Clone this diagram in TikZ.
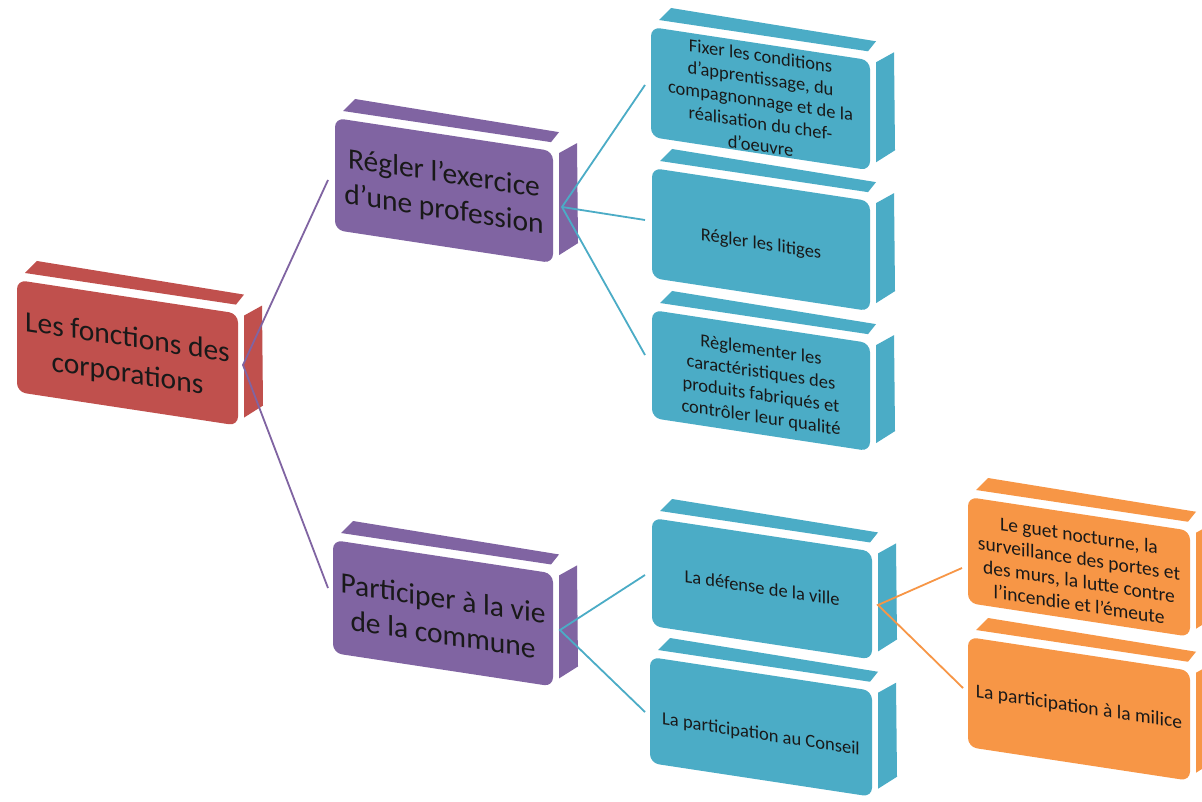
\documentclass[tikz,border=0pt]{standalone}
\usepackage{fontspec}
\setmainfont{Carlito}
\definecolor{cred}{RGB}{192,80,77}
\definecolor{cpur}{RGB}{128,100,162}
\definecolor{cblu}{RGB}{75,172,198}
\definecolor{corg}{RGB}{247,150,70}
\definecolor{ctxt}{RGB}{25,25,25}
\tikzset{
  bigtext/.style={font=\fontsize{29.5}{36}\selectfont, text=ctxt, align=center, inner sep=0pt},
  smalltext/.style={font=\fontsize{18.5}{22.5}\selectfont, text=ctxt, align=center, inner sep=0pt},
  orgtext/.style={font=\fontsize{19.5}{23}\selectfont, text=ctxt, align=center, inner sep=0pt},
  link/.style={line width=1.8pt},
}
% #1 name, #2 x, #3 y, #4 width, #5 height, #6 colour, #7 text style, #8 text, #9 text dy
\newcommand\cbox[9]{%
  \pgfmathsetmacro\bxR{#2+#4}%
  \pgfmathsetmacro\byTR{#3+0.152*#4}%
  \pgfmathsetmacro\byBR{\byTR+#5}%
  \pgfmathsetmacro\byBL{#3+#5}%
  \pgfmathsetmacro\bcx{#2+0.5*#4}%
  \pgfmathsetmacro\bcy{#3+0.076*#4+0.5*#5+#9}%
  \fill[#6] (#2+8,#3-7) -- (\bxR-2,\byTR-9) -- (\bxR+6,\byTR-19) -- (#2+20,#3-19) -- cycle;
  \fill[#6] (\bxR+6,\byTR+2) -- (\bxR+24,\byTR-8) -- (\bxR+25,\byBR-20) -- (\bxR+6,\byBR-8) -- cycle;
  \fill[#6, rounded corners=9pt] (#2,#3) -- (\bxR,\byTR) -- (\bxR,\byBR) -- (#2,\byBL) -- cycle;
  \begin{scope}[shift={(\bcx,\bcy)}, yslant=-0.152]
    \node[#7, transform shape] (#1) at (0,0) {#8};
  \end{scope}
}
\begin{document}
\begin{tikzpicture}[x=1pt,y=-1pt]
\useasboundingbox (0,0) rectangle (1202,802);
\fill[white] (0,0) rectangle (1202,802);
\clip (0,0) rectangle (1202,802);

\cbox{root}{17}{280}{221}{112}{cred}{bigtext}{Les fonctions des\\corporations}{4}
\cbox{regler}{335}{118}{218}{112}{cpur}{bigtext}{Régler l’exercice\\d’une profession}{2}
\cbox{partic}{333}{540}{220}{113}{cpur}{bigtext}{Participer à la vie\\de la commune}{3}
\cbox{fixer}{651}{27}{219}{110}{cblu}{smalltext}{Fixer les conditions\\d’apprentissage, du\\compagnonnage et de la\\réalisation du chef-\\d’oeuvre}{2}
\cbox{litiges}{652}{168}{218}{110}{cblu}{smalltext}{Régler les litiges}{5}
\cbox{reglem}{652}{310}{218}{108}{cblu}{smalltext}{Règlementer les\\caractéristiques des\\produits fabriqués et\\contrôler leur qualité}{4}
\cbox{defense}{652}{518}{220}{108}{cblu}{smalltext}{La défense de la ville}{-1}
\cbox{conseil}{650}{657}{222}{106}{cblu}{smalltext}{La participation au Conseil}{8}
\cbox{guet}{968}{497}{222}{106}{corg}{orgtext}{Le guet nocturne, la\\surveillance des portes et\\des murs, la lutte contre\\l’incendie et l’émeute}{3}
\cbox{milice}{968}{637}{222}{110}{corg}{orgtext}{La participation à la milice}{-1}

\coordinate (rootR) at (243,365);
\coordinate (reglerL) at (328,180);
\coordinate (particL) at (328,588);
\coordinate (reglerR) at (562,207);
\coordinate (fixerL) at (645,85);
\coordinate (litigesL) at (645,220);
\coordinate (reglemL) at (645,355);
\coordinate (particR) at (560,630);
\coordinate (defenseL) at (645,575);
\coordinate (conseilL) at (645,712);
\coordinate (defenseR) at (878,605);
\coordinate (guetL) at (962,568);
\coordinate (miliceL) at (963,688);

\draw[link, cpur] (reglerL) -- (rootR) -- (particL);
\draw[link, cblu] (fixerL) -- (reglerR) -- (reglemL);
\draw[link, cblu] (reglerR) -- (litigesL);
\draw[link, cblu] (defenseL) -- (particR) -- (conseilL);
\draw[link, corg] (guetL) -- (defenseR) -- (miliceL);
\end{tikzpicture}
\end{document}
